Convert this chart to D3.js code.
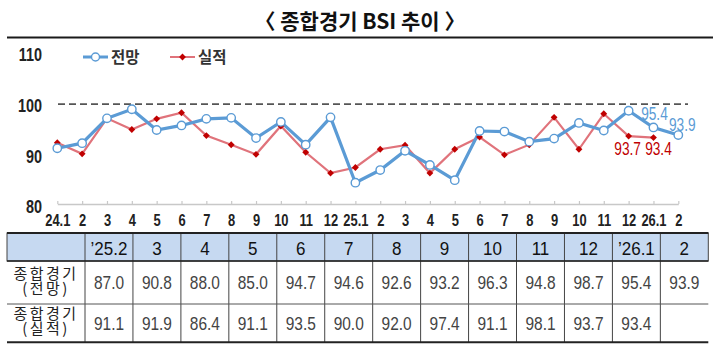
<!DOCTYPE html>
<html>
<head>
<meta charset="utf-8">
<script src="https://cdn.jsdelivr.net/npm/d3@7"></script>
<style>
    html, body { margin: 0; padding: 0; background: #fff; }
    svg { display: block; }
    .num { font-family: "Liberation Sans", Arial, sans-serif; }
    .kr { font-family: "Noto Sans CJK KR", sans-serif; }
</style>
</head>
<body>
<svg id="bsi_svg"></svg>
<script>
// x categories (month)
let months = ["24.1","2","3","4","5","6","7","8","9","10","11","12",
              "25.1","2","3","4","5","6","7","8","9","10","11","12","26.1","2"];
// 전망 (forecast)
let forecast = [91.3, 92.3, 97.2, 99.0, 94.9, 95.8, 97.1, 97.3, 93.3, 96.5, 92.0, 97.4,
                84.5, 87.0, 90.8, 88.0, 85.0, 94.7, 94.6, 92.6, 93.2, 96.3, 94.8, 98.7, 95.4, 93.9];
// 실적 (actual)
let actual = [92.4, 90.2, 97.2, 95.0, 97.1, 98.3, 93.8, 92.0, 90.1, 95.7, 90.5, 86.4,
              87.5, 91.1, 91.9, 86.4, 91.1, 93.5, 90.0, 92.0, 97.4, 91.1, 98.1, 93.7, 93.4, null];
let yTicks = [80, 90, 100, 110];
let refValue = 100;
// table
let tableStart = 13;
let tableHeads = ["’25.2","3","4","5","6","7","8","9","10","11","12","’26.1","2"];
let rowNames = [["종합경기","(전망)"], ["종합경기","(실적)"]];

let width = 720, height = 358,
    blue = "#5b9bd5", redLine = "#e0737b", red = "#c00000",
    svg = d3.select("#bsi_svg").attr("width", width).attr("height", height),
    idx = d3.range(months.length),
    xScale = d3.scalePoint(idx, [57.3, 678.3]),
    yScale = d3.scaleLinear([80, 110], [205.5, 53.5]),
    fmt = d3.format(".1f");

function squeeze(x, y, sx) {
    return "translate(" + x + "," + y + ") scale(" + sx + ",1)";
}

// title
svg.append("text")
    .attr("class", "kr")
    .attr("x", 360).attr("y", 29)
    .attr("text-anchor", "middle")
    .attr("font-size", 21).attr("font-weight", 700)
    .attr("fill", "#111")
    .text("〈 종합경기 BSI 추이 〉");
svg.append("line")
    .attr("x1", 7).attr("x2", 713).attr("y1", 37.5).attr("y2", 37.5)
    .attr("stroke", "#1a1a1a").attr("stroke-width", 2);

// y axis labels
let yAxis = d3.axisLeft(yScale).tickValues(yTicks).tickSize(0).tickPadding(0);
let yg = svg.append("g")
    .attr("transform", "translate(42,0)")
    .call(yAxis);
yg.select(".domain").remove();
yg.selectAll("text")
    .attr("class", "num")
    .attr("font-size", 18).attr("font-weight", 700)
    .attr("fill", "#222")
    .attr("x", 0)
    .attr("dy", "0.4em")
    .attr("transform", "scale(0.8,1)");

// reference dashed line
svg.append("line")
    .attr("x1", 58).attr("x2", 688)
    .attr("y1", yScale(refValue)).attr("y2", yScale(refValue))
    .attr("stroke", "#555").attr("stroke-width", 1.6)
    .attr("stroke-dasharray", "7,4");

// x axis
let xAxis = d3.axisBottom(xScale)
    .tickFormat(function(i){ return months[i]; })
    .tickSizeInner(-3).tickSizeOuter(0).tickPadding(0);
let xg = svg.append("g")
    .attr("transform", "translate(0,204)")
    .call(xAxis);
xg.select(".domain").attr("stroke", "#c8c8c8").attr("stroke-width", 1.5);
xg.selectAll(".tick line").attr("stroke", "#c8c8c8").attr("stroke-width", 1.2);
xg.selectAll("text")
    .attr("class", "num")
    .attr("font-size", 17).attr("font-weight", 700)
    .attr("fill", "#222")
    .attr("y", 22).attr("dy", 0)
    .attr("transform", "scale(0.76,1)");

// lines
let line = d3.line()
    .defined(function(d){ return d[1] != null; })
    .x(function(d){ return xScale(d[0]); })
    .y(function(d){ return yScale(d[1]); });
let actualPts = idx.map(function(i){ return [i, actual[i]]; });
let forecastPts = idx.map(function(i){ return [i, forecast[i]]; });

svg.append("path")
    .datum(actualPts)
    .attr("d", line)
    .attr("fill", "none").attr("stroke", redLine).attr("stroke-width", 2.2);
svg.append("path")
    .datum(forecastPts)
    .attr("d", line)
    .attr("fill", "none").attr("stroke", blue).attr("stroke-width", 3.2);

let diamond = d3.symbol().type(d3.symbolDiamond2).size(30);

svg.selectAll(".dot_actual")
    .data(actualPts.filter(function(d){ return d[1] != null; }))
    .enter()
    .append("path")
    .attr("class", "dot_actual")
    .attr("d", diamond)
    .attr("transform", function(d){ return "translate(" + xScale(d[0]) + "," + yScale(d[1]) + ")"; })
    .attr("fill", red);
svg.selectAll(".dot_forecast")
    .data(forecastPts)
    .enter()
    .append("circle")
    .attr("class", "dot_forecast")
    .attr("cx", function(d){ return xScale(d[0]); })
    .attr("cy", function(d){ return yScale(d[1]); })
    .attr("r", 4.2)
    .attr("fill", "#fff").attr("stroke", blue).attr("stroke-width", 1.4);

// end labels
let n = months.length;
let endLabels = [
    {i: n - 2, v: forecast[n - 2], c: blue, dx: 1, dy: -7},
    {i: n - 1, v: forecast[n - 1], c: blue, dx: 4, dy: -4},
    {i: n - 3, v: actual[n - 3], c: red, dx: -1, dy: 18.5},
    {i: n - 2, v: actual[n - 2], c: red, dx: 5, dy: 17}
];
svg.selectAll(".endLabel")
    .data(endLabels)
    .enter()
    .append("text")
    .attr("class", "num endLabel")
    .attr("transform", function(d){ return squeeze(xScale(d.i) + d.dx, yScale(d.v) + d.dy, 0.74); })
    .attr("text-anchor", "middle")
    .attr("font-size", 18.5)
    .attr("fill", function(d){ return d.c; })
    .text(function(d){ return fmt(d.v); });

// legend
let legend = [{name: "전망", c: blue, x: 83}, {name: "실적", c: red, x: 170}];
let lg = svg.selectAll(".legend")
    .data(legend)
    .enter()
    .append("g")
    .attr("class", "legend")
    .attr("transform", function(d){ return "translate(" + d.x + ",57)"; });
lg.append("line")
    .attr("x1", 0).attr("x2", 25)
    .attr("stroke", function(d, k){ return k == 0 ? blue : redLine; })
    .attr("stroke-width", function(d, k){ return k == 0 ? 3 : 2; });
lg.each(function(d, k){
    let g = d3.select(this);
    if (k == 0) {
        g.append("circle").attr("cx", 12.5).attr("r", 4)
            .attr("fill", "#fff").attr("stroke", blue).attr("stroke-width", 1.4);
    } else {
        g.append("path").attr("d", diamond).attr("transform", "translate(12.5,0)").attr("fill", red);
    }
});
lg.append("text")
    .attr("class", "kr")
    .attr("x", 28).attr("y", 6)
    .attr("font-size", 15.5).attr("font-weight", 700)
    .attr("fill", "#333")
    .text(function(d){ return d.name; });

// table
let tx0 = 7, tx1 = 85, tx2 = 708.3,
    colW = (tx2 - tx1) / tableHeads.length,
    rTop = 233, rHead = 261, rMid = 304, rBot = 342.3;
let tbl = svg.append("g");
tbl.append("rect")
    .attr("x", tx0).attr("y", rTop).attr("width", tx2 - tx0).attr("height", rHead - rTop)
    .attr("fill", "#c6d9f1").attr("stroke", "#444").attr("stroke-width", 1);
tbl.selectAll(".vline")
    .data(d3.range(tableHeads.length))
    .enter()
    .append("line")
    .attr("x1", function(i){ return tx1 + i * colW; })
    .attr("x2", function(i){ return tx1 + i * colW; })
    .attr("y1", rTop).attr("y2", rBot)
    .attr("stroke", "#444").attr("stroke-width", 1);
tbl.append("line").attr("x1", tx0).attr("x2", tx2).attr("y1", rTop).attr("y2", rTop)
    .attr("stroke", "#222").attr("stroke-width", 2);
tbl.append("line").attr("x1", tx0).attr("x2", tx2).attr("y1", rHead).attr("y2", rHead)
    .attr("stroke", "#222").attr("stroke-width", 1.6);
tbl.append("line").attr("x1", tx0).attr("x2", tx2).attr("y1", rMid).attr("y2", rMid)
    .attr("stroke", "#555").attr("stroke-width", 1);
tbl.append("line").attr("x1", tx0).attr("x2", tx2).attr("y1", rBot).attr("y2", rBot)
    .attr("stroke", "#222").attr("stroke-width", 2);

tbl.selectAll(".head")
    .data(tableHeads)
    .enter()
    .append("text")
    .attr("class", "num head")
    .attr("transform", function(d, i){ return squeeze(tx1 + (i + 0.5) * colW, 254.5, 0.92); })
    .attr("text-anchor", "middle")
    .attr("font-size", 18.5)
    .attr("fill", "#111")
    .text(function(d){ return d; });

let rows = [forecast.slice(tableStart), actual.slice(tableStart)];
let rowY = [(rHead + rMid) / 2, (rMid + rBot) / 2];
rows.forEach(function(vals, r){
    tbl.selectAll(".cell" + r)
        .data(vals)
        .enter()
        .append("text")
        .attr("class", "num cell" + r)
        .attr("transform", function(d, i){ return squeeze(tx1 + (i + 0.5) * colW, rowY[r] + 6.5, 0.86); })
        .attr("text-anchor", "middle")
        .attr("font-size", 18)
        .attr("fill", "#444")
        .text(function(d){ return d == null ? "" : fmt(d); });
    tbl.append("text")
        .attr("class", "kr")
        .attr("x", 46).attr("y", rowY[r] - 4)
        .attr("text-anchor", "middle")
        .attr("font-size", 15)
        .attr("letter-spacing", 2.5)
        .attr("fill", "#222")
        .text(rowNames[r][0]);
    tbl.append("text")
        .attr("class", "kr")
        .attr("x", 46).attr("y", rowY[r] + 11)
        .attr("text-anchor", "middle")
        .attr("font-size", 15)
        .attr("letter-spacing", 2.5)
        .attr("fill", "#222")
        .text(rowNames[r][1]);
});
</script>
</body>
</html>
